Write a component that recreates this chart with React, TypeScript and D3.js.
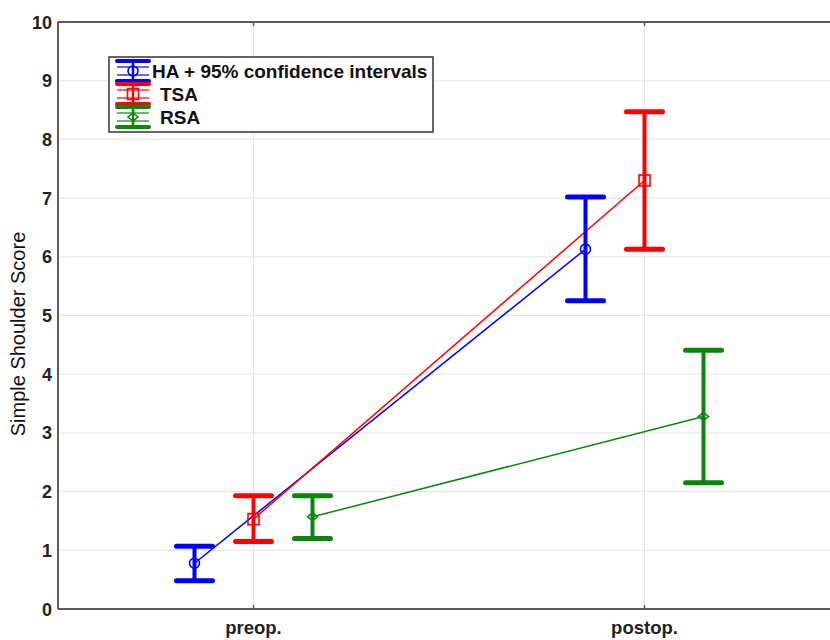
import { useEffect, useRef } from 'react';
import * as d3 from 'd3';

// time points and groups
const phases = ['preop.', 'postop.'];
const groups = ['HA', 'TSA', 'RSA'];
const legendLabels = ['HA + 95% confidence intervals', 'TSA', 'RSA'];
const colors = ['#0000ff', '#ff0000', '#0a870a'];
const markers = ['circle', 'square', 'diamond'];

// means and 95% CI per group, [preop, postop]
const haMean = [0.78, 6.13];
const haLow = [0.48, 5.25];
const haHigh = [1.07, 7.02];
const tsaMean = [1.53, 7.3];
const tsaLow = [1.15, 6.13];
const tsaHigh = [1.93, 8.47];
const rsaMean = [1.57, 3.28];
const rsaLow = [1.2, 2.15];
const rsaHigh = [1.93, 4.41];

const yTicks = [0, 1, 2, 3, 4, 5, 6, 7, 8, 9, 10];

const means = [haMean, tsaMean, rsaMean];
const lows = [haLow, tsaLow, rsaLow];
const highs = [haHigh, tsaHigh, rsaHigh];

const drawMarker = (g: any, type: string, x: number, y: number, color: string) => {
  if (type === 'circle') {
    g.append('circle').attr('cx', x).attr('cy', y).attr('r', 5)
      .attr('fill', 'none').attr('stroke', color).attr('stroke-width', 1.6);
  } else if (type === 'square') {
    g.append('rect').attr('x', x - 5.5).attr('y', y - 5.5).attr('width', 11).attr('height', 11)
      .attr('fill', 'none').attr('stroke', color).attr('stroke-width', 1.6);
  } else {
    g.append('path').attr('d', `M${x - 5},${y} L${x},${y - 4} L${x + 5},${y} L${x},${y + 4} Z`)
      .attr('fill', 'none').attr('stroke', color).attr('stroke-width', 1.6);
  }
};

export default function App() {
  const ref = useRef<SVGSVGElement>(null);

  useEffect(() => {
    const svg = d3.select(ref.current);
    svg.selectAll('*').remove();

    const left = 58, top = 22, right = 840, bottom = 609;
    const font = 'Liberation Sans, Arial, sans-serif';

    const x = d3.scaleLinear().domain([-0.5, phases.length - 0.5]).range([left, right]);
    const offset = d3.scalePoint<string>().domain(groups).range([-59, 59]);
    const y = d3.scaleLinear().domain([0, 10]).range([bottom, top]);

    // grid
    svg.append('g').selectAll('line').data(yTicks.slice(1, -1)).join('line')
      .attr('x1', left).attr('x2', right)
      .attr('y1', d => y(d)).attr('y2', d => y(d))
      .attr('stroke', '#e4e4e4').attr('stroke-width', 1);
    svg.append('g').selectAll('line').data(phases).join('line')
      .attr('x1', (d, i) => x(i)).attr('x2', (d, i) => x(i))
      .attr('y1', top).attr('y2', bottom)
      .attr('stroke', '#e4e4e4').attr('stroke-width', 1);

    // frame
    const axisColor = '#5a5a5a';
    svg.append('line').attr('x1', left).attr('x2', right).attr('y1', top).attr('y2', top)
      .attr('stroke', axisColor).attr('stroke-width', 2);
    svg.append('line').attr('x1', left).attr('x2', right).attr('y1', bottom).attr('y2', bottom)
      .attr('stroke', axisColor).attr('stroke-width', 2);
    svg.append('line').attr('x1', left).attr('x2', left).attr('y1', top).attr('y2', bottom)
      .attr('stroke', axisColor).attr('stroke-width', 2);

    // x ticks
    phases.forEach((p, i) => {
      svg.append('line').attr('x1', x(i)).attr('x2', x(i)).attr('y1', bottom).attr('y2', bottom - 4)
        .attr('stroke', axisColor).attr('stroke-width', 1.5);
      svg.append('line').attr('x1', x(i)).attr('x2', x(i)).attr('y1', top).attr('y2', top + 4)
        .attr('stroke', axisColor).attr('stroke-width', 1.5);
      svg.append('text').attr('x', x(i)).attr('y', 634).attr('text-anchor', 'middle')
        .attr('font-family', font).attr('font-weight', 'bold').attr('font-size', 18.5)
        .attr('fill', '#222').text(p);
    });

    // y ticks
    svg.append('g').selectAll('text').data(yTicks).join('text')
      .attr('x', 52).attr('y', d => y(d) + 6.5).attr('text-anchor', 'end')
      .attr('font-family', font).attr('font-weight', 'bold').attr('font-size', 18)
      .attr('fill', '#222').text(d => d);

    svg.append('text')
      .attr('transform', 'translate(25, 334) rotate(-90)')
      .attr('text-anchor', 'middle')
      .attr('font-family', font).attr('font-size', 20)
      .attr('fill', '#111').text('Simple Shoulder Score');

    // connecting lines
    groups.forEach((gName, gi) => {
      const line = d3.line<number>()
        .x((d, i) => x(i) + (offset(gName) as number))
        .y(d => y(d));
      svg.append('path').attr('d', line(means[gi]))
        .attr('fill', 'none').attr('stroke', colors[gi]).attr('stroke-width', 1.5);
    });

    // error bars
    groups.forEach((gName, gi) => {
      const g = svg.append('g');
      phases.forEach((p, i) => {
        const cx = x(i) + (offset(gName) as number);
        const lo = y(lows[gi][i]);
        const hi = y(highs[gi][i]);
        g.append('line').attr('x1', cx).attr('x2', cx).attr('y1', lo).attr('y2', hi)
          .attr('stroke', colors[gi]).attr('stroke-width', 4);
        [lo, hi].forEach(v => {
          g.append('line').attr('x1', cx - 18).attr('x2', cx + 18).attr('y1', v).attr('y2', v)
            .attr('stroke', colors[gi]).attr('stroke-width', 5).attr('stroke-linecap', 'round');
        });
        drawMarker(g, markers[gi], cx, y(means[gi][i]), colors[gi]);
      });
    });

    // legend
    const lg = svg.append('g');
    lg.append('rect').attr('x', 109).attr('y', 57).attr('width', 324).attr('height', 75)
      .attr('fill', 'white').attr('stroke', '#333').attr('stroke-width', 1.5);
    const ly = d3.scalePoint<string>().domain(groups).range([71, 117]);
    groups.forEach((gName, gi) => {
      const cy = ly(gName) as number;
      const c = colors[gi];
      [-4, 4].forEach(d => {
        lg.append('line').attr('x1', 117).attr('x2', 149).attr('y1', cy + d).attr('y2', cy + d)
          .attr('stroke', c).attr('stroke-width', 1.2);
      });
      lg.append('line').attr('x1', 133).attr('x2', 133).attr('y1', cy - 10).attr('y2', cy + 10)
        .attr('stroke', c).attr('stroke-width', 2.5);
      [-10, 10].forEach(d => {
        lg.append('line').attr('x1', 117).attr('x2', 149).attr('y1', cy + d).attr('y2', cy + d)
          .attr('stroke', c).attr('stroke-width', 4).attr('stroke-linecap', 'round');
      });
      drawMarker(lg, markers[gi], 133, cy, c);
      lg.append('text').attr('x', gi === 0 ? 152 : 160).attr('y', cy + 7)
        .attr('font-family', font).attr('font-weight', 'bold').attr('font-size', 19)
        .attr('fill', '#111').text(legendLabels[gi]);
    });
  }, []);

  return (
    <svg ref={ref} width={830} height={640}
      style={{ position: 'absolute', left: 0, top: 0, background: 'white' }} />
  );
}
